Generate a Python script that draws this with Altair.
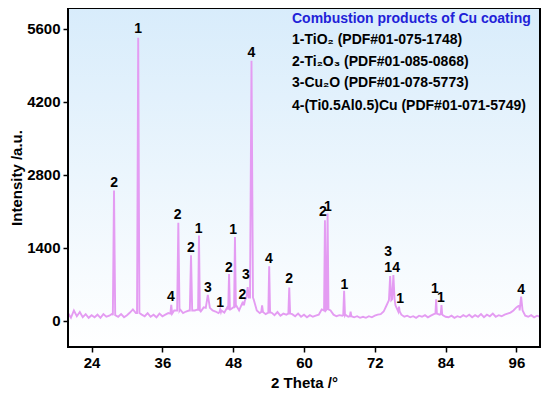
import altair as alt
import pandas as pd

# ---- data ----
# baseline (noise) sampled every 0.5 degree from 20 to 100
base_start = 20.0
base_step = 0.5
base_vals = [
    150, 60, 200, 90, 170, 70, 130, 60, 110, 70,      # 20.0 - 24.5
    120, 60, 130, 80, 100, 140, 120, 80, 130, 70,     # 25.0 - 29.5
    110, 160, 220, 150, 180, 120, 90, 150, 80, 120,   # 30.0 - 34.5
    70, 140, 90, 120, 150, 180, 200, 260, 220, 150,   # 35.0 - 39.5
    180, 200, 220, 200, 220, 180, 260, 420, 380, 200, # 40.0 - 44.5
    180, 150, 200, 160, 260, 220, 260, 300, 200, 330, # 45.0 - 49.5
    400, 600, 900, 400, 200, 150, 200, 130, 180, 160, # 50.0 - 54.5
    110, 170, 100, 140, 120, 160, 130, 90, 140, 80,   # 55.0 - 59.5
    120, 70, 110, 80, 100, 120, 220, 260, 300, 200,   # 60.0 - 64.5
    120, 90, 110, 100, 120, 80, 130, 70, 90, 60,      # 65.0 - 69.5
    80, 60, 90, 70, 100, 120, 130, 180, 300, 500,     # 70.0 - 74.5
    600, 300, 200, 120, 80, 100, 70, 90, 60, 100,     # 75.0 - 79.5
    80, 110, 70, 100, 130, 150, 120, 110, 80, 70,     # 80.0 - 84.5
    100, 60, 90, 70, 110, 80, 120, 70, 110, 80,       # 85.0 - 89.5
    130, 70, 120, 90, 140, 80, 110, 90, 120, 140,     # 90.0 - 94.5
    160, 200, 260, 300, 150, 100, 80, 110, 70, 100,   # 95.0 - 99.5
    80,                                               # 100.0
]

# diffraction peaks: position, apex intensity, half width, foot level
peak_theta = [27.8, 31.9, 37.5, 38.7, 40.85, 42.2, 43.7, 45.8, 47.3, 48.3,
              49.7, 50.45, 51.1, 52.9, 54.1, 57.5, 63.55, 64.0, 66.8, 67.9,
              74.6, 75.15, 76.1, 82.4, 83.3, 96.8]
peak_height = [2500, 5430, 310, 1880, 1260, 1640, 500, 220, 900, 1610,
               370, 650, 4990, 300, 1050, 640, 1930, 2060, 580, 180,
               860, 880, 275, 415, 305, 465]
peak_half = [0.2, 0.2, 0.15, 0.2, 0.2, 0.15, 0.35, 0.12, 0.15, 0.15,
             0.12, 0.2, 0.25, 0.15, 0.15, 0.15, 0.15, 0.15, 0.15, 0.12,
             0.2, 0.2, 0.12, 0.12, 0.12, 0.25]
peak_foot = [110, 150, 140, 200, 200, 200, 250, 170, 220, 260,
             300, 450, 450, 170, 160, 140, 200, 220, 110, 90,
             400, 420, 180, 140, 130, 200]

# peak labels: text, position, intensity at label centre
label_text = ["2", "1", "4", "2", "2", "1", "3", "1", "2", "1",
              "2", "3", "4", "4", "2", "2", "1", "1", "3", "1",
              "4", "1", "1", "1", "4"]
label_theta = [27.8, 31.9, 37.45, 38.6, 40.85, 42.15, 43.7, 45.8, 47.25, 48.0,
               49.55, 50.17, 51.1, 54.07, 57.5, 63.2, 64.07, 66.83, 74.24, 74.24,
               75.6, 76.3, 82.2, 83.2, 96.8]
label_int = [2640, 5600, 460, 2030, 1400, 1760, 630, 345, 1010, 1740,
             500, 880, 5140, 1185, 800, 2080, 2180, 690, 1320, 1010,
             1010, 420, 610, 440, 590]

legend_title = "Combustion products of Cu coating"
legend_lines = ["1-TiO\u2082 (PDF#01-075-1748)",
                "2-Ti\u2082O\u2083 (PDF#01-085-0868)",
                "3-Cu\u2082O (PDF#01-078-5773)",
                "4-(Ti0.5Al0.5)Cu (PDF#01-071-5749)"]

x_ticks = [24, 36, 48, 60, 72, 84, 96]
y_ticks = [0, 1400, 2800, 4200, 5600]
x_domain = [20, 100]
y_domain = [-500, 6000]

# ---- build the pattern table ----
pts = []
for i, v in enumerate(base_vals):
    t = base_start + base_step * i
    if any(abs(t - p) <= h + 0.01 for p, h in zip(peak_theta, peak_half)):
        continue
    pts.append((t, v))
for p, hgt, h, f in zip(peak_theta, peak_height, peak_half, peak_foot):
    pts.append((p - h, f))
    pts.append((p, hgt))
    pts.append((p + h, f))
pts.sort(key=lambda a: a[0])
df = pd.DataFrame(pts, columns=["theta", "intensity"])

labels = pd.DataFrame({"t": label_text, "theta": label_theta, "intensity": label_int})

W, H = 472, 339
FONT = "Liberation Sans"

xscale = alt.Scale(domain=x_domain, nice=False, zero=False)
yscale = alt.Scale(domain=y_domain, nice=False, zero=False)

one = pd.DataFrame({"a": [0]})

bg = alt.Chart(one).mark_rect(
    fill=alt.Gradient(
        gradient="linear",
        stops=[alt.GradientStop(offset=0, color="#d8ecfb"),
               alt.GradientStop(offset=1, color="#ffffff")],
        x1=0, x2=0, y1=0, y2=1),
).encode(
    x=alt.datum(x_domain[0], scale=xscale),
    x2=alt.datum(x_domain[1]),
    y=alt.datum(y_domain[1], scale=yscale),
    y2=alt.datum(y_domain[0]),
)

line = alt.Chart(df).mark_line(color="#e49cf2", strokeWidth=1.9, clip=True).encode(
    x=alt.X("theta:Q", scale=xscale,
            axis=alt.Axis(values=x_ticks, format="d", title="2 Theta /°", titlePadding=5)),
    y=alt.Y("intensity:Q", scale=yscale,
            axis=alt.Axis(values=y_ticks, format="d", title="Intensity /a.u.", titlePadding=2)),
)

lab = alt.Chart(labels).mark_text(font=FONT, fontWeight="bold", fontSize=14,
                                  color="black", baseline="middle").encode(
    x=alt.X("theta:Q", scale=xscale),
    y=alt.Y("intensity:Q", scale=yscale),
    text="t:N",
)

frame = alt.Chart(one).mark_rect(fillOpacity=0, stroke="black", strokeWidth=2).encode(
    x=alt.value(0), x2=alt.value(W), y=alt.value(0), y2=alt.value(H))

LX = 224
leg_layers = [
    alt.Chart(pd.DataFrame({"txt": [legend_title]})).mark_text(
        font=FONT, fontWeight="bold", fontSize=14, color="#1f22d8",
        align="left", baseline="middle").encode(
        x=alt.value(LX), y=alt.value(11), text="txt:N")
]
for txt, yy in zip(legend_lines, [32, 54, 75, 98]):
    leg_layers.append(
        alt.Chart(pd.DataFrame({"txt": [txt]})).mark_text(
            font=FONT, fontWeight="bold", fontSize=14, color="black",
            align="left", baseline="middle").encode(
            x=alt.value(LX), y=alt.value(yy), text="txt:N"))

chart = alt.layer(bg, line, lab, frame, *leg_layers).properties(
    width=W, height=H,
    autosize=alt.AutoSizeParams(type="none"),
    padding={"left": 60, "top": 0, "right": 2, "bottom": 44},
).configure_view(stroke=None).configure_axis(
    labelFont=FONT, labelFontWeight="bold", labelFontSize=15, labelColor="black",
    titleFont=FONT, titleFontWeight="bold", titleFontSize=15, titleColor="black",
    tickColor="black", tickWidth=1.5, tickSize=5, grid=False, domain=False,
    labelPadding=3,
)

chart.save("out.html", embed_options={"renderer": "svg", "actions": False})
